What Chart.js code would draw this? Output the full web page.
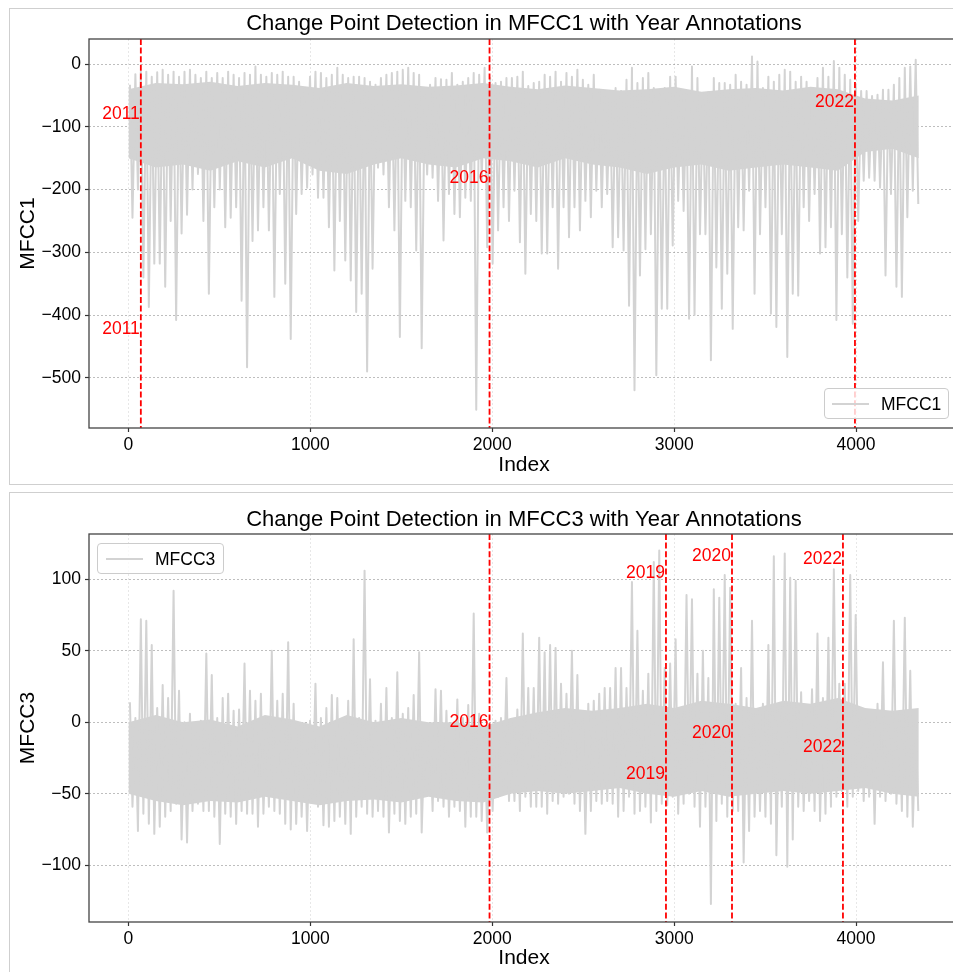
<!DOCTYPE html>
<html>
<head>
<meta charset="utf-8">
<title>Change Point Detection</title>
<script src="https://cdn.jsdelivr.net/npm/chart.js@4.4.1/dist/chart.umd.min.js"></script>
<style>
  html, body { margin: 0; padding: 0; background: #fff; overflow: hidden; width: 953px; height: 972px; }
  .panel { position: absolute; left: 9px; width: 1000px; border: 1px solid #cfcfcf; box-sizing: border-box; }
  #p1 { top: 8px; height: 477px; }
  #p2 { top: 492px; height: 520px; }
  .wrap { position: absolute; left: 0; width: 980px; height: 480px; }
  #w1 { top: 0; }
  #w2 { top: 492px; }
  .legend {
    position: absolute; box-sizing: border-box; height: 31px;
    border: 1px solid #cccccc; border-radius: 4px; background: rgba(255,255,255,0.8);
    font: 17.5px "Liberation Sans", Arial, sans-serif; color: #000;
  }
  .legend .swatch { position: absolute; top: 14px; width: 37px; height: 0; border-top: 2px solid #d3d3d3; }
  .legend .txt { position: absolute; top: 5px; line-height: 20px; }
  #lg1 { left: 824px; top: 388px; width: 125px; }
  #lg2 { left: 97px; top: 543px; width: 127px; }
</style>
</head>
<body>
<div class="panel" id="p1"></div>
<div class="panel" id="p2"></div>
<div class="wrap" id="w1"><canvas id="mfcc1Chart"></canvas></div>
<div class="wrap" id="w2"><canvas id="mfcc3Chart"></canvas></div>
<div class="legend" id="lg1"><span class="swatch" style="left:7px"></span><span class="txt" style="left:56px">MFCC1</span></div>
<div class="legend" id="lg2"><span class="swatch" style="left:8px"></span><span class="txt" style="left:57px">MFCC3</span></div>

<script>
// Signal envelope: one max and one min per block of 30 samples
const BIN = 30;

const mfcc1High = [
  -33, -16, -12, -12, -20, -13, -9, -17, -12, -20,
  -12, -9, -17, -22, -12, -22, -14, -22, -12, -17,
  -22, -14, -17, -4, -17, -20, -14, -17, -12, -20,
  -20, -28, -38, -20, -12, -14, -22, -17, -6, -17,
  -22, -20, -20, -22, -28, -33, -22, -17, -14, -12,
  -9, -6, -14, -17, -49, -33, -22, -24, -25, -14,
  -33, -28, -22, -14, -17, -6, -22, -30, -28, -22,
  -22, -20, -12, -35, -30, -28, -17, -20, -12, -28,
  -14, -20, -9, -25, -33, -17, -41, -43, -43, -38,
  -43, -25, -6, -30, -22, -14, -38, -49, -38, -20,
  -20, -41, -46, -4, -22, -49, -45, -22, -30, -30,
  -33, -17, -28, -33, 12, 4, -38, -20, -28, -17,
  -9, -12, -28, -20, -28, -38, -22, -6, -20, 5,
  -6, -17, -25, -33, -43, -43, -51, -49, -41, -41,
  -33, -22, -6, -4, 7
];
const mfcc1Low = [
  -245, -200, -340, -387, -318, -318, -355, -250, -408, -270,
  -240, -200, -175, -250, -366, -228, -200, -260, -245, -228,
  -377, -483, -282, -265, -228, -265, -371, -207, -350, -438,
  -239, -207, -197, -176, -213, -213, -260, -329, -250, -313,
  -345, -395, -366, -490, -326, -165, -176, -228, -265, -435,
  -218, -228, -297, -453, -176, -181, -218, -281, -207, -239,
  -244, -213, -218, -551, -186, -292, -318, -265, -228, -250,
  -202, -284, -334, -239, -250, -302, -302, -228, -326, -228,
  -276, -228, -265, -218, -244, -202, -228, -207, -292, -276,
  -297, -385, -520, -337, -295, -271, -496, -390, -390, -289,
  -218, -234, -406, -400, -271, -271, -472, -324, -390, -334,
  -422, -260, -265, -202, -366, -271, -228, -398, -419, -271,
  -467, -366, -369, -228, -250, -207, -302, -292, -260, -408,
  -271, -340, -414, -250, -186, -181, -186, -197, -337, -207,
  -355, -371, -244, -202, -223
];

const mfcc3High = [
  14, 3, 72, 71, 54, 10, 26, 17, 92, 22,
  0, 6, -7, 1, 48, 33, 3, 17, 20, 8,
  9, 41, 22, 15, 20, 3, 50, 15, 20, 56,
  13, -3, -1, 1, 27, 3, 10, 19, 17, 1,
  15, 58, 3, 106, 30, 1, 13, 24, 3, 35,
  6, 10, 19, 49, -10, -6, 23, 22, 8, -1,
  16, 3, 12, 76, 6, -6, -3, 1, 3, 31,
  -1, 9, 62, 24, 24, 59, 49, 54, 52, 27,
  20, 50, 33, 3, 13, 15, 20, 24, 24, 38,
  38, 24, 98, 64, 22, 34, 112, 120, 38, 41,
  58, 8, 89, 86, 34, 50, 31, 93, 87, 103,
  94, 13, 38, 17, 71, 8, 13, 54, 116, 13,
  118, 101, 99, 21, 8, 23, 62, 17, 59, 107,
  27, 27, 103, 75, 3, 6, 3, 13, 42, -1,
  71, 6, 73, 36, -2
];
const mfcc3Low = [
  -59, -76, -64, -71, -78, -73, -66, -62, -57, -82,
  -84, -62, -57, -62, -62, -66, -85, -64, -66, -71,
  -62, -64, -64, -73, -64, -59, -62, -64, -71, -75,
  -71, -66, -76, -55, -59, -72, -73, -69, -66, -71,
  -78, -66, -59, -64, -66, -62, -66, -77, -64, -69,
  -71, -66, -64, -77, -48, -62, -55, -59, -66, -59,
  -62, -73, -66, -66, -69, -77, -62, -52, -48, -55,
  -55, -62, -52, -59, -59, -59, -64, -55, -57, -52,
  -50, -57, -62, -78, -62, -55, -57, -55, -57, -66,
  -62, -52, -64, -62, -59, -70, -62, -57, -58, -52,
  -64, -57, -50, -59, -73, -59, -127, -69, -57, -66,
  -62, -62, -98, -76, -66, -62, -66, -71, -93, -59,
  -101, -82, -59, -62, -55, -62, -69, -64, -59, -52,
  -48, -59, -52, -48, -55, -52, -71, -52, -55, -50,
  -57, -62, -66, -73, -62
];

// Dense (solid) part of each trace, read every 150 samples
const coreX = [
  0, 150, 300, 450, 600, 750, 900, 1050, 1200, 1350,
  1500, 1650, 1800, 1950, 2100, 2250, 2400, 2550, 2700, 2850,
  3000, 3150, 3300, 3450, 3600, 3750, 3900, 4050, 4200, 4345
];
const mfcc1CoreTop = [
  -40, -30, -32, -28, -35, -30, -33, -38, -30, -35,
  -32, -36, -34, -30, -36, -40, -34, -38, -42, -40,
  -36, -44, -40, -38, -42, -36, -40, -55, -58, -50
];
const mfcc1CoreBottom = [
  -150, -165, -160, -170, -155, -165, -150, -170, -175, -160,
  -150, -160, -165, -150, -155, -165, -150, -160, -165, -175,
  -165, -160, -170, -165, -160, -165, -170, -140, -135, -150
];
const mfcc3CoreTop = [
  0, 5, 0, 2, -3, 5, 2, -3, 5, 0,
  3, 0, 0, -3, 3, 7, 10, 8, 10, 13,
  10, 15, 13, 10, 15, 13, 17, 10, 8, 10
];
const mfcc3CoreBottom = [
  -50, -55, -58, -55, -56, -52, -55, -58, -55, -54,
  -56, -52, -55, -56, -50, -48, -50, -48, -46, -50,
  -52, -48, -52, -50, -48, -50, -48, -46, -50, -52
];

// Change points (sample index) and their year notes
const mfcc1Changes = [68, 1985, 3994];
const mfcc1NoteX = [68, 68, 1985, 3994];
const mfcc1NoteY = [-80, -422, -182, -61];
const mfcc1NoteText = ['2011', '2011', '2016', '2022'];

const mfcc3Changes = [1985, 2955, 3318, 3928];
const mfcc3NoteX = [1985, 2955, 2955, 3318, 3318, 3928, 3928];
const mfcc3NoteY = [0, 104, -36, 116, -7.5, 114, -17.5];
const mfcc3NoteText = ['2016', '2019', '2019', '2020', '2020', '2022', '2022'];

// Axis ranges and tick values
const xRange = [-217, 4566];
const xTicks = [0, 1000, 2000, 3000, 4000];
const mfcc1Range = [-580, 40];
const mfcc1Ticks = [-500, -400, -300, -200, -100, 0];
const mfcc3Range = [-139.6, 131.6];
const mfcc3Ticks = [-100, -50, 0, 50, 100];

const FONT = '"Liberation Sans", Arial, sans-serif';
const TRACE = '#d3d3d3';
Chart.defaults.font.family = FONT;
Chart.defaults.font.size = 17.5;
Chart.defaults.color = '#000';

function zigzag(high, low) {
  const pts = [];
  for (let k = 0; k < high.length; k++) {
    pts.push({ x: k * BIN + 8, y: high[k] });
    pts.push({ x: k * BIN + 22, y: low[k] });
  }
  return pts;
}

function pairs(xs, ys) {
  return xs.map((x, i) => ({ x: x, y: ys[i] }));
}

function minusFmt(v) {
  return v < 0 ? '\u2212' + Math.abs(v) : String(v);
}

// Title, red dashed change lines, red year labels and the axes box
const changePlugin = {
  id: 'changeMarks',
  afterDatasetsDraw(chart, args, opts) {
    const { ctx, chartArea: a, scales: { x, y } } = chart;
    ctx.save();
    ctx.beginPath();
    ctx.rect(a.left, a.top, a.right - a.left, a.bottom - a.top);
    ctx.clip();
    ctx.strokeStyle = '#ff0000';
    ctx.lineWidth = 1.8;
    ctx.setLineDash([6, 2.6]);
    opts.lines.forEach(cp => {
      const px = x.getPixelForValue(cp);
      ctx.beginPath();
      ctx.moveTo(px, a.top);
      ctx.lineTo(px, a.bottom);
      ctx.stroke();
    });
    ctx.setLineDash([]);
    ctx.fillStyle = '#ff0000';
    ctx.font = '17.5px ' + FONT;
    ctx.textAlign = 'right';
    ctx.textBaseline = 'middle';
    opts.noteX.forEach((nx, i) => {
      ctx.fillText(opts.noteText[i], x.getPixelForValue(nx) - 1, y.getPixelForValue(opts.noteY[i]));
    });
    ctx.restore();
  },
  afterDraw(chart, args, opts) {
    const { ctx, chartArea: a } = chart;
    ctx.save();
    ctx.strokeStyle = '#444';
    ctx.lineWidth = 1.3;
    ctx.strokeRect(a.left, a.top, a.right - a.left, a.bottom - a.top);
    ctx.fillStyle = '#000';
    ctx.font = '22px ' + FONT;
    ctx.textAlign = 'center';
    ctx.textBaseline = 'middle';
    ctx.fillText(opts.title, (a.left + a.right) / 2, a.top - opts.titleGap);
    ctx.restore();
  }
};

function fixedTicks(values) {
  return s => { s.ticks = values.map(v => ({ value: v })); };
}

function makeChart(id, cfg) {
  return new Chart(document.getElementById(id), {
    type: 'line',
    data: {
      datasets: [
        {
          label: cfg.label,
          data: zigzag(cfg.high, cfg.low),
          borderColor: TRACE,
          borderWidth: 2,
          borderJoinStyle: 'round',
          pointRadius: 0,
          tension: 0,
          fill: false
        },
        {
          label: 'dense top',
          data: pairs(coreX, cfg.coreTop),
          borderColor: 'rgba(0,0,0,0)',
          borderWidth: 1,
          backgroundColor: TRACE,
          pointRadius: 0,
          fill: '+1'
        },
        {
          label: 'dense bottom',
          data: pairs(coreX, cfg.coreBottom),
          borderColor: 'rgba(0,0,0,0)',
          borderWidth: 1,
          pointRadius: 0,
          fill: false
        }
      ]
    },
    options: {
      responsive: true,
      maintainAspectRatio: false,
      animation: false,
      layout: { padding: { left: 0, right: 21, top: cfg.top, bottom: 0 } },
      plugins: {
        legend: { display: false },
        tooltip: { enabled: false },
        title: { display: false },
        changeMarks: {
          lines: cfg.changes, noteX: cfg.noteX, noteY: cfg.noteY, noteText: cfg.noteText,
          title: cfg.title, titleGap: cfg.titleGap
        }
      },
      scales: {
        x: {
          type: 'linear',
          min: xRange[0],
          max: xRange[1],
          afterBuildTicks: fixedTicks(xTicks),
          afterFit: s => { s.height = cfg.xAxisH; },
          ticks: { padding: 3, maxRotation: 0, autoSkip: false, callback: minusFmt },
          grid: { color: 'rgba(0,0,0,0.12)', lineWidth: 0.8, tickLength: 4, tickColor: '#333', tickWidth: 1.2, tickBorderDash: [] },
          border: { display: false, dash: [2, 2] },
          title: { display: true, text: 'Index', font: { size: 21 }, padding: { top: 0, bottom: cfg.xTitlePad } }
        },
        y: {
          min: cfg.yRange[0],
          max: cfg.yRange[1],
          afterBuildTicks: fixedTicks(cfg.yTicks),
          afterFit: s => { s.width = 89; },
          ticks: { padding: 4, autoSkip: false, callback: minusFmt },
          grid: { color: 'rgba(0,0,0,0.32)', lineWidth: 0.8, tickLength: 4, tickColor: '#333', tickWidth: 1.2, tickBorderDash: [] },
          border: { display: false, dash: [2, 2] },
          title: { display: true, text: cfg.label, font: { size: 21 }, padding: { top: 15.4, bottom: 0 } }
        }
      }
    },
    plugins: [changePlugin]
  });
}

makeChart('mfcc1Chart', {
  label: 'MFCC1',
  title: 'Change Point Detection in MFCC1 with Year Annotations',
  high: mfcc1High, low: mfcc1Low,
  coreTop: mfcc1CoreTop, coreBottom: mfcc1CoreBottom,
  changes: mfcc1Changes, noteX: mfcc1NoteX, noteY: mfcc1NoteY, noteText: mfcc1NoteText,
  yRange: mfcc1Range, yTicks: mfcc1Ticks,
  top: 39, titleGap: 15,
  xAxisH: 52, xTitlePad: 2.4
});

makeChart('mfcc3Chart', {
  label: 'MFCC3',
  title: 'Change Point Detection in MFCC3 with Year Annotations',
  high: mfcc3High, low: mfcc3Low,
  coreTop: mfcc3CoreTop, coreBottom: mfcc3CoreBottom,
  changes: mfcc3Changes, noteX: mfcc3NoteX, noteY: mfcc3NoteY, noteText: mfcc3NoteText,
  yRange: mfcc3Range, yTicks: mfcc3Ticks,
  top: 42, titleGap: 14,
  xAxisH: 50, xTitlePad: 1.4
});
</script>
</body>
</html>
